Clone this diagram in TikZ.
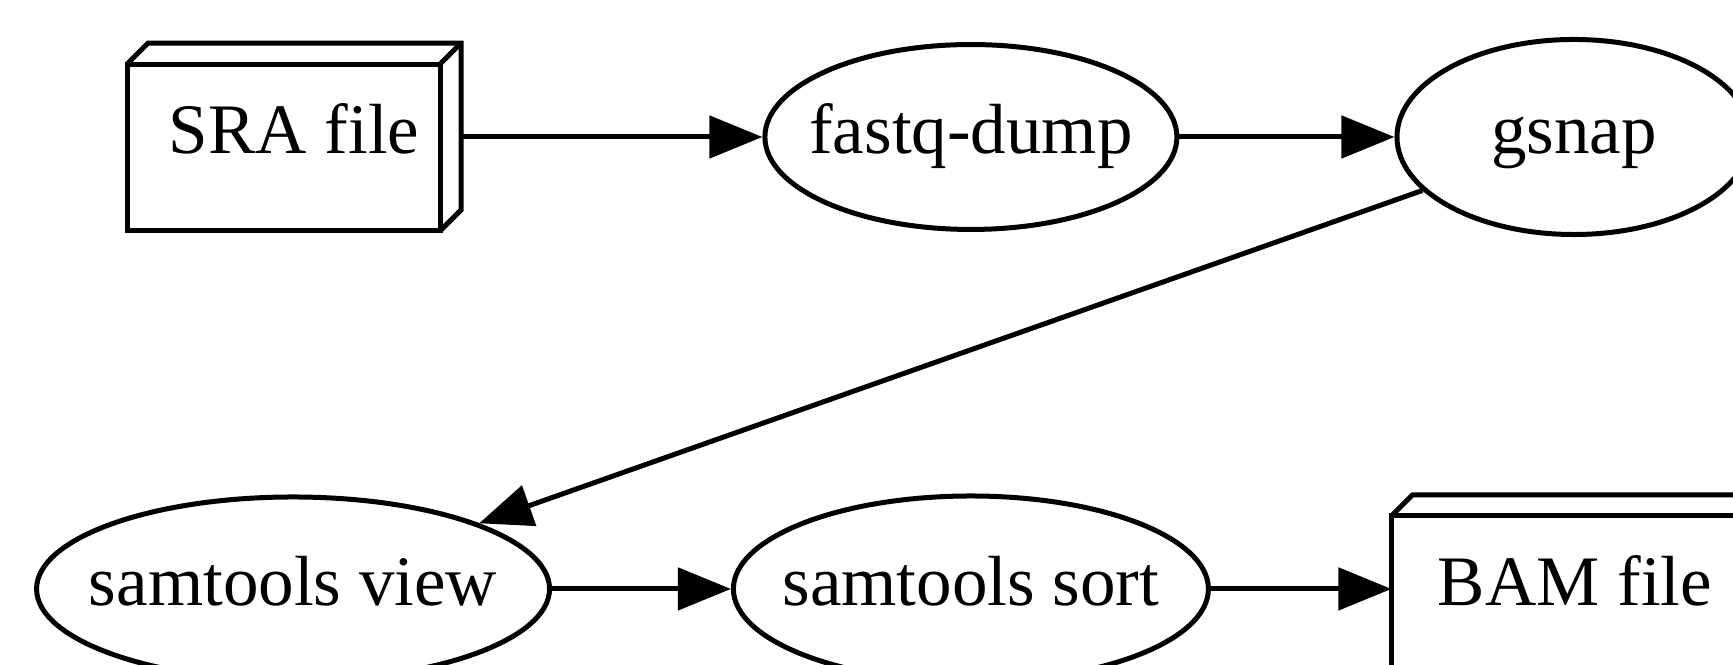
\documentclass[tikz,border=0pt]{standalone}
\usepackage{fontspec}
\setmainfont{Liberation Serif}
\usepackage{tikz}
\usetikzlibrary{positioning,shapes.geometric}
\usetikzlibrary{arrows.meta}
\newcommand{\cubedepth}{4.2pt}
\tikzset{
  line/.style={draw=black,line width=1pt},
  tool/.style={ellipse,line,inner xsep=-10pt,inner ysep=0pt,text height=9.8pt,text depth=3.3pt},
  filebox/.style={rectangle,inner sep=0pt,text height=9.8pt,text depth=3.3pt,
    minimum width=2.334cm,minimum height=1.307cm},
}
\tikzset{flow/.style={line,-{Triangle[length=10.6pt,width=8.4pt]}}}
\newcommand{\boxedges}[1]{%
  \draw[line] (#1.south west) rectangle ([xshift=-\cubedepth,yshift=-\cubedepth]#1.north east);
  \draw[line] ([yshift=-\cubedepth]#1.north west) -- ([xshift=\cubedepth]#1.north west) -- (#1.north east)
    -- ([yshift=\cubedepth]#1.south east) -- ([xshift=-\cubedepth]#1.south east);
  \draw[line] ([xshift=-\cubedepth,yshift=-\cubedepth]#1.north east) -- (#1.north east);}

\begin{document}
\begin{tikzpicture}[scale=1,font=\fontsize{14.2pt}{17pt}\selectfont]
\useasboundingbox (0,0) rectangle (12.182,-4.674);
\clip (0,0) rectangle (12.182,-4.674);
\coordinate (psra) at (2.067,-0.963);
\coordinate (pfastq) at (6.825,-0.963);
\coordinate (pgsnap) at (11.064,-0.963);
\coordinate (pview) at (2.060,-4.140);
\coordinate (psort) at (6.825,-4.140);
\coordinate (pbam) at (11.071,-4.140);
\node[filebox] (sra) at (psra) {SRA file};
\node[tool,minimum width=2.896cm,minimum height=1.300cm] (fastq) at (pfastq) {fastq-dump};
\node[tool,minimum width=2.488cm,minimum height=1.371cm] (gsnap) at (pgsnap) {gsnap};
\node[tool,minimum width=3.606cm,minimum height=1.293cm] (view) at (pview) {samtools view};
\node[tool,minimum width=3.339cm,minimum height=1.307cm] (sort) at (psort) {samtools sort};
\node[filebox,minimum width=2.566cm] (bam) at (pbam) {BAM file};
\boxedges{sra}
\boxedges{bam}
\draw[flow] (sra) -- (fastq);
\draw[flow] (fastq) -- (gsnap);
\draw[flow] (gsnap) -- (view);
\draw[flow] (view) -- (sort);
\draw[flow] (sort) -- (bam);
\end{tikzpicture}
\end{document}
